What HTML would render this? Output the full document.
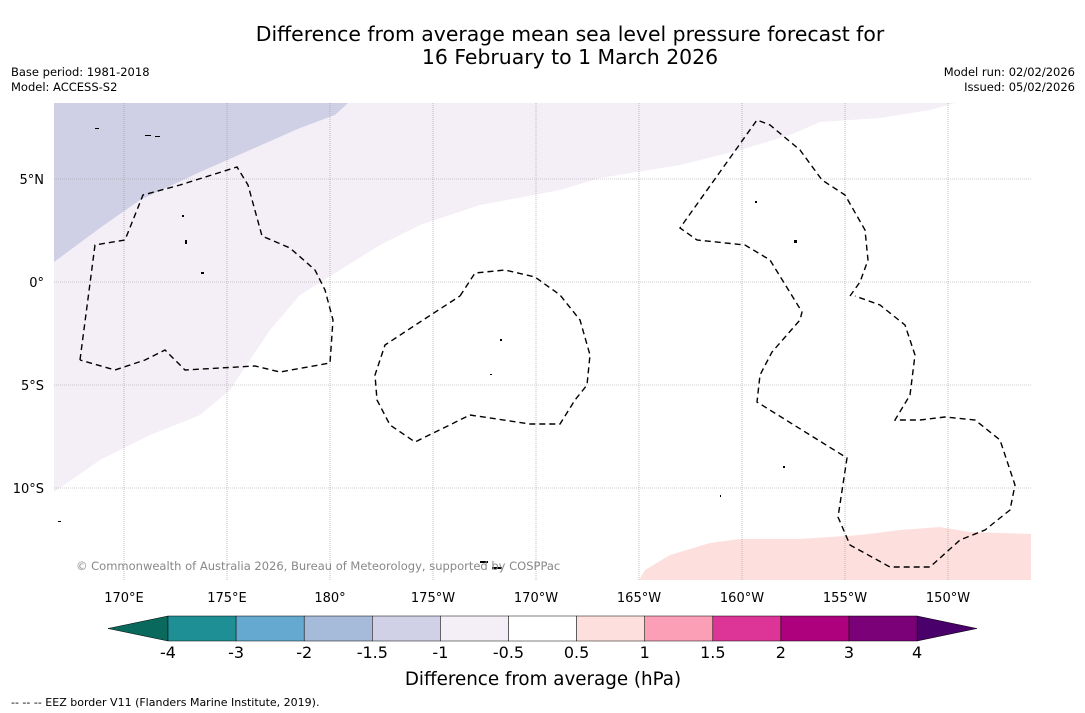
<!DOCTYPE html>
<html><head><meta charset="utf-8"><style>
body{margin:0;background:#fff;font-family:"DejaVu Sans","Liberation Sans",sans-serif}
svg{display:block}
</style></head><body>
<svg width="1085" height="713" viewBox="0 0 1085 713" xmlns="http://www.w3.org/2000/svg" font-family="DejaVu Sans, Liberation Sans, sans-serif">
<text x="570" y="41" font-size="20.4" text-anchor="middle">Difference from average mean sea level pressure forecast for</text>
<text x="570" y="64" font-size="20.4" text-anchor="middle">16 February to 1 March 2026</text>
<text x="11" y="76" font-size="11.5">Base period: 1981-2018</text>
<text x="11" y="91" font-size="11.5">Model: ACCESS-S2</text>
<text x="1075" y="76" font-size="11.5" text-anchor="end">Model run: 02/02/2026</text>
<text x="1075" y="91" font-size="11.5" text-anchor="end">Issued: 05/02/2026</text>
<g id="map">
<clipPath id="mc"><rect x="54" y="103" width="977" height="477"/></clipPath>
<g clip-path="url(#mc)">
<polygon fill="#f4eef6" points="54,103 955,103 930,110 880,118 820,122 790,135 740,150 680,165 600,178 560,190 480,205 420,225 380,245 340,270 300,295 270,330 250,360 230,390 200,415 150,435 100,460 54,492"/>
<polygon fill="#cfd0e5" points="54,103 348,103 335,115 300,128 250,150 200,172 140,200 100,228 54,262"/>
<polygon fill="#fde0de" points="639,580 645,570 670,555 710,543 740,539 800,539 860,535 900,530 940,527 970,532 1031,534 1031,580"/>
<g id="grid" stroke="#999" stroke-width="0.6" stroke-dasharray="1,1"></g>
<g fill="none" stroke="#000" stroke-width="1.4" stroke-dasharray="6,4">
<polyline points="80,360 95,245 125,240 143,195 180,185 237,167 248,185 262,236 290,248 315,270 325,290 333,320 330,363 280,372 255,366 185,370 165,350 145,360 115,370 80,360"/>
<polyline points="460,296 475,273 505,270 535,277 560,295 580,320 590,355 587,385 575,400 560,424 530,424 470,415 415,442 390,425 377,400 375,375 385,345 420,322 460,296"/>
<polyline points="850,296 860,282 868,260 865,230 845,195 822,180 800,150 770,125 757,120 680,228 697,240 745,245 770,260 802,312 800,320 772,352 760,375 757,402 847,458 838,517 850,545 890,567 930,567 960,540 985,530 1010,510 1015,485 1000,440 975,420 945,417 920,420 895,420 910,395 915,355 905,325 880,305 855,296"/>
</g>
<g fill="#000">
<rect x="145" y="135" width="6" height="1"/><rect x="155" y="136" width="5" height="1"/><rect x="95" y="128" width="4" height="1"/>
<rect x="182" y="215" width="2" height="2"/><rect x="185" y="240" width="2" height="4"/><rect x="201" y="272" width="3" height="2"/>
<rect x="500" y="339" width="2" height="2"/><rect x="490" y="374" width="2" height="1"/><rect x="755" y="201" width="2" height="2"/>
<rect x="794" y="240" width="3" height="3"/><rect x="783" y="466" width="2" height="2"/><rect x="480" y="561" width="8" height="2"/>
<rect x="492" y="567" width="10" height="2"/><rect x="58" y="521" width="3" height="1"/><rect x="720" y="495" width="1" height="2"/>
</g>
</g>
<text x="76" y="570" font-size="11.5" fill="#888">© Commonwealth of Australia 2026, Bureau of Meteorology, supported by COSPPac</text>
<g id="labels" font-size="13"></g>
</g>
<g id="cbar"></g>
<text x="543" y="685" font-size="18.3" text-anchor="middle">Difference from average (hPa)</text>
<text x="11" y="706" font-size="11">--  --  -- EEZ border V11 (Flanders Marine Institute, 2019).</text>
</svg>
<script>
const lonTicks=[170,175,180,-175,-170,-165,-160,-155,-150];
const lonLabels=["170°E","175°E","180°","175°W","170°W","165°W","160°W","155°W","150°W"];
const latTicks=[5,0,-5,-10];
const latLabels=["5°N","0°","5°S","10°S"];
const cbLabels=["-4","-3","-2","-1.5","-1","-0.5","0.5","1","1.5","2","3","4"];
const cbColors=["#1f8f96","#66a9d0","#a6bbd9","#d0d1e6","#f4eef6","#ffffff","#fde0de","#fa9fb5","#dd3497","#ae017e","#7a0177"];
const NS="http://www.w3.org/2000/svg";
function lonX(l){let d=l<0?l+360:l;return 124+(d-170)*20.6;}
function latY(a){return 282-a*20.6;}
const grid=document.getElementById('grid'),lab=document.getElementById('labels');
lonTicks.forEach((l,i)=>{
 const ln=document.createElementNS(NS,'line');ln.setAttribute('x1',lonX(l));ln.setAttribute('x2',lonX(l));ln.setAttribute('y1',103);ln.setAttribute('y2',580);
 
 
 grid.appendChild(ln);
 const t=document.createElementNS(NS,'text');t.setAttribute('x',lonX(l));t.setAttribute('y',602);t.setAttribute('text-anchor','middle');t.textContent=lonLabels[i];
 
 
 lab.appendChild(t);
});
latTicks.forEach((a,i)=>{
 const ln=document.createElementNS(NS,'line');ln.setAttribute('x1',54);ln.setAttribute('x2',1031);ln.setAttribute('y1',latY(a));ln.setAttribute('y2',latY(a));
 
 
 grid.appendChild(ln);
 const t=document.createElementNS(NS,'text');t.setAttribute('x',44);t.setAttribute('y',latY(a)+5);t.setAttribute('text-anchor','end');t.textContent=latLabels[i];
 
 
 lab.appendChild(t);
});
const cb=document.getElementById('cbar');
const x0=168,w=68.1,y0=616,h=25;
function cbx(i){return x0+i*w;}
const lt=document.createElementNS(NS,'polygon');lt.setAttribute('points',`${x0},${y0} ${x0},${y0+h} 108,${y0+h/2}`);lt.setAttribute('fill','#08695c');lt.setAttribute('stroke','#000');lt.setAttribute('stroke-width','0.5');


cb.appendChild(lt);
const rt=document.createElementNS(NS,'polygon');rt.setAttribute('points',`${cbx(11)},${y0} ${cbx(11)},${y0+h} 977,${y0+h/2}`);rt.setAttribute('fill','#49006a');rt.setAttribute('stroke','#000');rt.setAttribute('stroke-width','0.5');


cb.appendChild(rt);
cbColors.forEach((c,i)=>{
 const r=document.createElementNS(NS,'rect');r.setAttribute('x',cbx(i));r.setAttribute('y',y0);r.setAttribute('width',w);r.setAttribute('height',h);r.setAttribute('fill',c);r.setAttribute('stroke','#000');r.setAttribute('stroke-width','0.5');
 
 
 cb.appendChild(r);
});
cbLabels.forEach((s,i)=>{
 const t=document.createElementNS(NS,'text');t.setAttribute('x',cbx(i));t.setAttribute('y',658);t.setAttribute('text-anchor','middle');t.setAttribute('font-size','16');t.textContent=s;
 
 
 cb.appendChild(t);
});
</script>
</body></html>
